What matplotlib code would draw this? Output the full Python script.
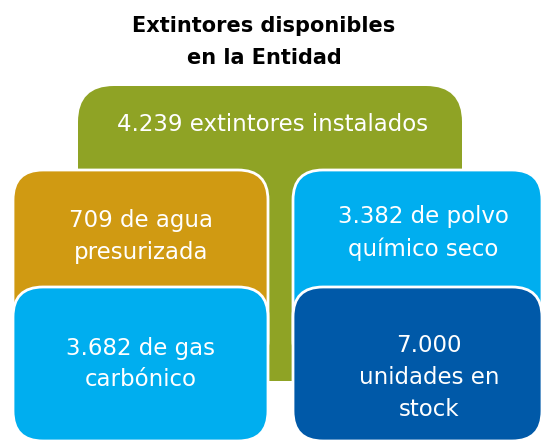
import matplotlib.pyplot as plt
from matplotlib.patches import FancyBboxPatch, Rectangle

title = "Extintores disponibles\nen la Entidad"
total_label = "4.239 extintores instalados"
box_labels = ["709 de agua\npresurizada", "3.682 de gas\ncarbónico",
              "3.382 de polvo\nquímico seco", "7.000\nunidades en\nstock"]
box_colors = ["#D09A12", "#00AEEF", "#00AEEF", "#0059A8"]
green = "#8FA325"

W, H = 544, 443
fig = plt.figure(figsize=(W / 100, H / 100), dpi=100)
ax = fig.add_axes([0, 0, 1, 1])
ax.set_xlim(0, W)
ax.set_ylim(H, 0)
ax.axis("off")

# big green box, rounded on top only
ax.add_patch(FancyBboxPatch((78, 86), 384, 200, boxstyle="round,pad=0,rounding_size=36",
                            fc=green, ec="none"))
ax.add_patch(Rectangle((78, 160), 384, 221, fc=green, ec="none"))
ax.text(273, 124, total_label, color="white", fontsize=16.5, ha="center", va="center")

# four boxes: (x, y, w, h)
boxes = [(13, 170, 255, 200), (13, 287, 255, 154),
         (293, 170, 249, 200), (293, 287, 249, 154)]
text_pos = [(141, 236), (141, 364), (423, 233), (429, 378)]
for (x, y, w, h), c, lab, (tx, ty) in zip(boxes, box_colors, box_labels, text_pos):
    ax.add_patch(FancyBboxPatch((x, y), w, h, boxstyle="round,pad=0,rounding_size=30",
                                fc=c, ec="white", lw=2))
    ax.text(tx, ty, lab, color="white", fontsize=16.5, ha="center", va="center",
            linespacing=1.5)

ax.text(264, 42, title, fontsize=15, fontweight="bold", ha="center", va="center",
        linespacing=1.7)

fig.savefig("out.png", dpi=100)
